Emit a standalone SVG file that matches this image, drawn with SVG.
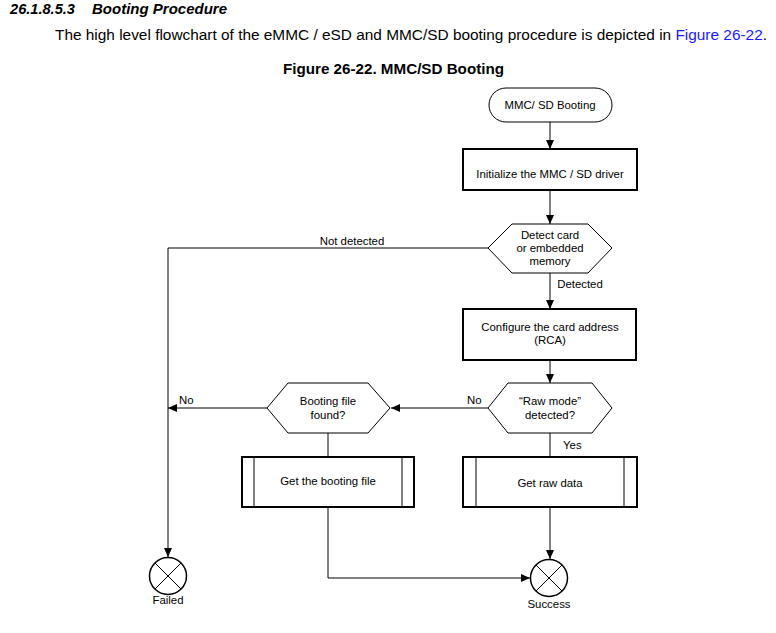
<svg xmlns="http://www.w3.org/2000/svg" width="776" height="633" viewBox="0 0 776 633">
<style>
text{font-family:"Liberation Sans",Arial,sans-serif;fill:#000}
.n{font-size:11.4px;text-anchor:middle}
.l{font-size:11.4px}
.h{font-size:14px;font-weight:bold;font-style:italic}
.box{fill:#fff;stroke:#000;stroke-width:2}
.thin{fill:#fff;stroke:#000;stroke-width:1}
.c{fill:none;stroke:#000;stroke-width:1}
.end{fill:#fff;stroke:#000;stroke-width:1.5}
</style>
<defs>
<marker id="ah" markerWidth="10" markerHeight="10" refX="9" refY="5" orient="auto" markerUnits="userSpaceOnUse">
<path d="M0,1 L9,5 L0,9 Z" fill="#000"/>
</marker>
</defs>
<rect width="776" height="633" fill="#fff"/>
<text class="h" x="10" y="14" textLength="65" lengthAdjust="spacingAndGlyphs">26.1.8.5.3</text>
<text class="h" x="92" y="14" textLength="135" lengthAdjust="spacingAndGlyphs">Booting Procedure</text>
<text x="55" y="40" style="font-size:14px" textLength="712" lengthAdjust="spacingAndGlyphs">The high level flowchart of the eMMC / eSD and MMC/SD booting procedure is depicted in <tspan style="fill:#1a1aff">Figure 26-22</tspan>.</text>
<text x="283" y="74" style="font-size:14px;font-weight:bold" textLength="221" lengthAdjust="spacingAndGlyphs">Figure 26-22. MMC/SD Booting</text>

<g id="connectors">
<line class="c" x1="550" y1="122" x2="550" y2="149" marker-end="url(#ah)"/>
<line class="c" x1="550" y1="190" x2="550" y2="224" marker-end="url(#ah)"/>
<line class="c" x1="550" y1="273" x2="550" y2="309" marker-end="url(#ah)"/>
<line class="c" x1="550" y1="360" x2="550" y2="383" marker-end="url(#ah)"/>
<polyline class="c" points="488,248 168,248 168,557" marker-end="url(#ah)"/>
<line class="c" x1="488" y1="408" x2="391" y2="408" marker-end="url(#ah)"/>
<line class="c" x1="267" y1="408" x2="168" y2="408" marker-end="url(#ah)"/>
<line class="c" x1="328" y1="433" x2="328" y2="457"/>
<line class="c" x1="550" y1="433" x2="550" y2="457"/>
<line class="c" x1="550" y1="507" x2="550" y2="559" marker-end="url(#ah)"/>
<polyline class="c" points="328,507 328,578 530,578" marker-end="url(#ah)"/>
<text class="n" x="352" y="245">Not detected</text>
<text class="n" x="580" y="288">Detected</text>
<text class="l" x="467" y="404">No</text>
<text class="l" x="179" y="404">No</text>
<text class="l" x="563" y="449">Yes</text>
</g>

<g id="start">
<rect class="thin" x="489" y="88" width="123" height="34" rx="17" ry="17"/>
<text class="n" x="550" y="109">MMC/ SD Booting</text>
</g>
<g id="init">
<rect class="box" x="463" y="149" width="174" height="41"/>
<text class="n" x="550" y="178">Initialize the MMC / SD driver</text>
</g>
<g id="detect">
<polygon class="thin" points="488,248 512,224 588,224 612,248 588,273 512,273"/>
<text class="n" x="550" y="239">Detect card</text>
<text class="n" x="550" y="252">or embedded</text>
<text class="n" x="550" y="265">memory</text>
</g>
<g id="configure">
<rect class="box" x="463" y="309" width="173" height="51"/>
<text class="n" x="550" y="331">Configure the card address</text>
<text class="n" x="550" y="344">(RCA)</text>
</g>
<g id="rawmode">
<polygon class="thin" points="488,408 508,383 592,383 612,408 592,433 508,433"/>
<text class="n" x="550" y="405">“Raw mode”</text>
<text class="n" x="550" y="419">detected?</text>
</g>
<g id="bootfile">
<polygon class="thin" points="267,408 288,383 368,383 390,408 368,433 288,433"/>
<text class="n" x="328" y="405">Booting file</text>
<text class="n" x="328" y="419">found?</text>
</g>
<g id="getboot">
<rect class="box" x="242" y="457" width="172" height="50"/>
<line class="c" x1="254" y1="457" x2="254" y2="507"/>
<line class="c" x1="402" y1="457" x2="402" y2="507"/>
<text class="n" x="328" y="485">Get the booting file</text>
</g>
<g id="getraw">
<rect class="box" x="463" y="457" width="174" height="50"/>
<line class="c" x1="476" y1="457" x2="476" y2="507"/>
<line class="c" x1="624" y1="457" x2="624" y2="507"/>
<text class="n" x="550" y="487">Get raw data</text>
</g>
<g id="failed">
<circle class="end" cx="168" cy="576" r="18.5"/>
<line class="c" x1="155" y1="563" x2="181" y2="589"/>
<line class="c" x1="181" y1="563" x2="155" y2="589"/>
<text class="n" x="168" y="604">Failed</text>
</g>
<g id="success">
<circle class="end" cx="549" cy="578" r="18.5"/>
<line class="c" x1="536" y1="565" x2="562" y2="591"/>
<line class="c" x1="562" y1="565" x2="536" y2="591"/>
<text class="n" x="549" y="608">Success</text>
</g>
</svg>
